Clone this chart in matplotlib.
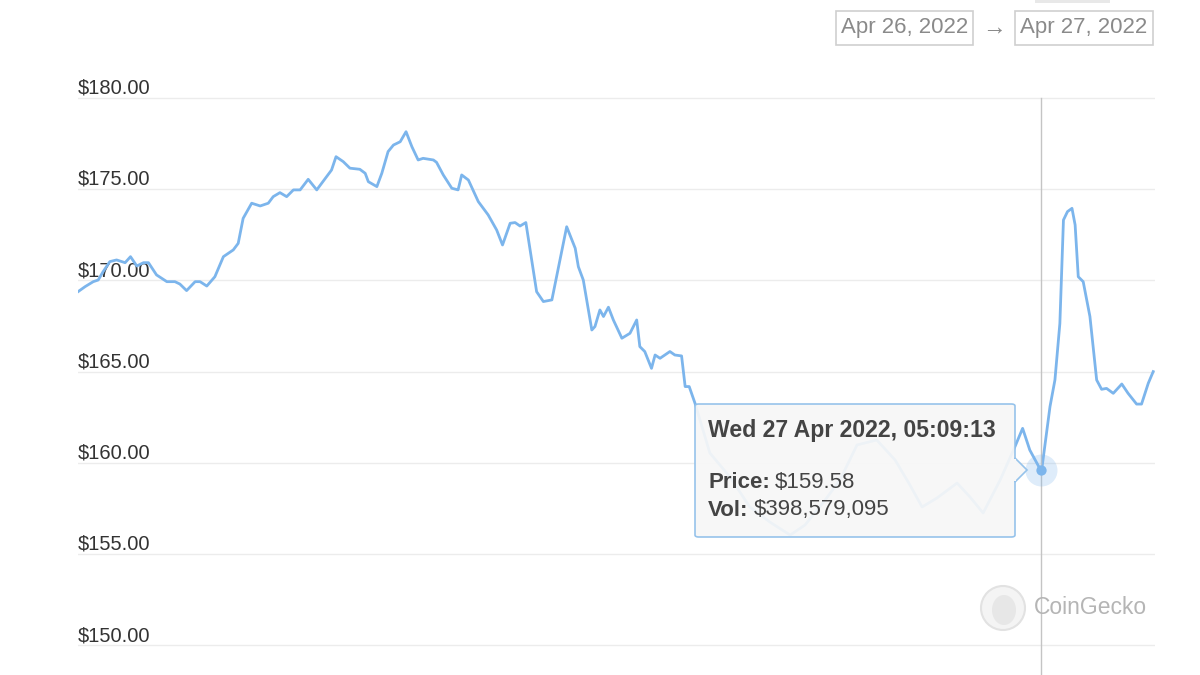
import matplotlib.pyplot as plt
from matplotlib.patches import FancyBboxPatch, Rectangle, Polygon, Ellipse

plt.rcParams['font.family'] = ['Liberation Sans', 'DejaVu Sans']

# hours since start of window (Apr 26 ~07:41) and price in USD
hours = [0.0, 0.16, 0.34, 0.45, 0.56, 0.71, 0.86, 1.05, 1.17, 1.31, 1.46, 1.57, 1.75, 1.98,
         2.16, 2.27, 2.42, 2.61, 2.72, 2.87, 3.05, 3.24, 3.46, 3.57, 3.68, 3.87, 4.06, 4.24,
         4.35, 4.50, 4.65, 4.80, 4.95, 5.13, 5.32, 5.54, 5.65, 5.75, 5.91, 6.06, 6.28, 6.40,
         6.47, 6.66, 6.77, 6.91, 7.03, 7.18, 7.31, 7.44, 7.58, 7.69, 7.92, 7.99, 8.14, 8.33,
         8.47, 8.55, 8.70, 8.92, 9.14, 9.33, 9.46, 9.63, 9.74, 9.85, 9.98, 10.22, 10.37, 10.56,
         10.89, 11.08, 11.15, 11.26, 11.45, 11.52, 11.63, 11.71, 11.82, 11.93, 12.12, 12.30,
         12.45, 12.52, 12.63, 12.78, 12.86, 12.97, 13.19, 13.30, 13.45, 13.53, 13.62, 13.75,
         14.08, 14.53, 14.97, 15.42, 15.87, 16.20, 16.60, 16.98, 17.36, 17.80, 18.21, 18.54,
         18.81, 19.14, 19.59, 19.88, 20.17, 20.55, 20.88, 21.05, 21.21, 21.47, 21.66, 21.77,
         21.88, 21.96, 22.05, 22.15, 22.22, 22.29, 22.40, 22.55, 22.70, 22.81, 22.92, 23.07,
         23.26, 23.40, 23.59, 23.70, 23.85, 23.96]
price = [169.38, 169.66, 169.93, 170.02, 170.48, 171.03, 171.12, 170.97, 171.30, 170.79, 170.97,
         170.97, 170.30, 169.93, 169.93, 169.80, 169.44, 169.93, 169.93, 169.69, 170.20, 171.30,
         171.67, 172.03, 173.40, 174.23, 174.08, 174.23, 174.59, 174.81, 174.59, 174.96, 174.96,
         175.54, 174.96, 175.69, 176.05, 176.78, 176.51, 176.15, 176.09, 175.87, 175.41, 175.14,
         175.87, 177.06, 177.42, 177.60, 178.15, 177.33, 176.60, 176.69, 176.60, 176.47, 175.78,
         175.05, 174.96, 175.78, 175.50, 174.32, 173.59, 172.76, 171.94, 173.13, 173.17, 172.98,
         173.17, 169.38, 168.84, 168.93, 172.94, 171.76, 170.75, 170.02, 167.28, 167.47, 168.38,
         168.02, 168.53, 167.83, 166.83, 167.10, 167.83, 166.37, 166.10, 165.18, 165.91, 165.73,
         166.10, 165.91, 165.86, 164.18, 164.18, 163.26, 160.54, 159.22, 157.58, 156.75, 156.04,
         156.59, 157.80, 159.06, 160.98, 161.25, 160.15, 158.78, 157.58, 158.07, 158.89, 158.12,
         157.25, 159.06, 160.89, 161.89, 160.70, 159.52, 163.08, 164.54, 167.64, 173.31, 173.77,
         173.95, 173.04, 170.20, 169.93, 168.02, 164.54, 164.03, 164.08, 163.81, 164.32, 163.81,
         163.22, 163.22, 164.36, 165.00]

y_ticks = [150, 155, 160, 165, 170, 175, 180]
hover_hour = 21.47
hover_price = 159.58
tooltip_title = "Wed 27 Apr 2022, 05:09:13"
tooltip_rows = [("Price:", "$159.58"), ("Vol:", "$398,579,095")]
date_from = "Apr 26, 2022"
date_to = "Apr 27, 2022"

W, H = 1200, 675
fig = plt.figure(figsize=(12, 6.75), dpi=100)
fig.patch.set_facecolor('white')

def fx(px):
    return px / W

def fy(py):
    return 1 - py / H

ax = fig.add_axes([fx(78), 0, fx(1077), 615 / H])
ax.set_xlim(0, 24)
ax.set_ylim(148.37, 182.08)
for s in ax.spines.values():
    s.set_visible(False)
ax.set_xticks([])
ax.set_yticks([])

blue = '#7cb5ec'
for v in y_ticks:
    ax.axhline(v, color='#ececec', lw=1, zorder=0)
    ax.annotate(f"${v:.2f}", xy=(0, v), xycoords=ax.get_yaxis_transform(),
                xytext=(0, 3), textcoords='offset points', ha='left', va='baseline',
                fontsize=14.5, color='#333333')

ax.plot(hours, price, color=blue, lw=2.0, solid_joinstyle='round', zorder=3)

# crosshair and hovered point
ax.axvline(hover_hour, ymin=0, ymax=(H - 98) / 615, color='#c4c4c4', lw=1, zorder=4)
ax.scatter([hover_hour], [hover_price], s=530, color=blue, alpha=0.25, lw=0, zorder=5)
ax.scatter([hover_hour], [hover_price], s=55, color=blue, lw=0, zorder=6)

# CoinGecko watermark
fig.patches.append(Ellipse((fx(1003), fy(608)), 44 / W, 44 / H, transform=fig.transFigure,
                           facecolor='#f4f4f4', edgecolor='#e2e2e2', lw=1.5, zorder=1))
fig.patches.append(Ellipse((fx(1004), fy(610)), 24 / W, 30 / H, transform=fig.transFigure,
                           facecolor='#e7e7e7', edgecolor='none', zorder=1))
fig.text(fx(1034), fy(607), "CoinGecko", fontsize=16.5, color='#b5b5b5', va='center', ha='left')

# tooltip
tip = FancyBboxPatch((fx(695), fy(537)), fx(320), 133 / H, boxstyle='round,pad=0,rounding_size=0.003',
                     transform=fig.transFigure, facecolor='#f7f7f7', edgecolor='#8fbfea',
                     lw=1.2, alpha=0.93, zorder=10)
fig.patches.append(tip)
fig.patches.append(Polygon([(fx(1015), fy(458)), (fx(1027), fy(470)), (fx(1015), fy(482))],
                           closed=True, transform=fig.transFigure, facecolor='#f7f7f7',
                           edgecolor='#8fbfea', lw=1.2, alpha=0.93, zorder=10))
fig.patches.append(Rectangle((fx(1014), fy(481)), fx(2), 22 / H, transform=fig.transFigure,
                             facecolor='#f7f7f7', edgecolor='none', zorder=11))
fig.text(fx(708), fy(431), tooltip_title, fontsize=16.6, fontweight='bold', color='#444444',
         va='center', ha='left', zorder=12)
fig.canvas.draw()
for (lab, val), py in zip(tooltip_rows, [483, 510]):
    t = fig.text(fx(708), fy(py), lab, fontsize=16, fontweight='bold', color='#444444',
                 va='center', ha='left', zorder=12)
    bb = t.get_window_extent(renderer=fig.canvas.get_renderer())
    fig.text(bb.x1 / W + 5 / W, fy(py), val, fontsize=16, color='#444444',
             va='center', ha='left', zorder=12)

# date range boxes
fig.patches.append(Rectangle((fx(1035), fy(3)), fx(75), 3 / H, transform=fig.transFigure,
                             facecolor='#e8e8e8', edgecolor='none'))
for (x0, w), txt in zip([(836, 137), (1015, 138)], [date_from, date_to]):
    fig.patches.append(Rectangle((fx(x0), fy(45)), fx(w), 34 / H, transform=fig.transFigure,
                                 facecolor='white', edgecolor='#cfcfcf', lw=1.2))
    fig.text(fx(x0 + w / 2), fy(28), txt, fontsize=16, color='#8a8a8a', ha='center', va='center')
fig.text(fx(994), fy(28), "\u2192", fontsize=17, color='#8a8a8a', ha='center', va='center')

fig.savefig('out.png', dpi=100)
